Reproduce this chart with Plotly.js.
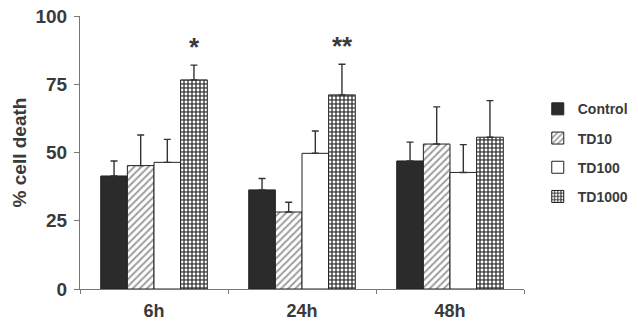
<!DOCTYPE html>
<html><head><meta charset="utf-8">
<script src="https://cdn.plot.ly/plotly-3.0.1.min.js"></script>
<style>html,body{margin:0;padding:0;background:#fff}#chart{width:638px;height:324px}</style>
</head><body><div id="chart"></div>
<script>
const categories = ['6h', '24h', '48h'];
const seriesNames = ['Control', 'TD10', 'TD100', 'TD1000'];
const controlVals = [41.4, 36.3, 46.9];
const td10Vals = [45.2, 28.2, 53.1];
const td100Vals = [46.4, 49.7, 42.7];
const td1000Vals = [76.6, 71.1, 55.6];
const controlErr = [5.5, 4.2, 6.9];
const td10Err = [11.2, 3.6, 13.6];
const td100Err = [8.4, 8.2, 10.2];
const td1000Err = [5.4, 11.2, 13.4];
const significance = ['*', '**', ''];
const yTicks = [0, 25, 50, 75, 100];

const txt = '#3a3a3a';
const fontFam = 'Liberation Sans, Arial, sans-serif';
const values = [controlVals, td10Vals, td100Vals, td1000Vals];
const errs = [controlErr, td10Err, td100Err, td1000Err];
const styles = [
  {color: '#2b2b2b', pattern: {shape: ''}},
  {color: '#ffffff', pattern: {shape: '/', fgcolor: '#3a3a3a', bgcolor: '#ffffff', size: 5, solidity: 0.4, fillmode: 'overlay'}},
  {color: '#ffffff', pattern: {shape: ''}},
  {color: '#ffffff', pattern: {shape: '.', fgcolor: '#ffffff', bgcolor: '#4a4a4a', size: 4, solidity: 0.4, fillmode: 'replace'}}
];

const traces = seriesNames.map((name, i) => ({
  type: 'bar', name: name, x: categories, y: values[i], legendgroup: 'g' + i,
  marker: Object.assign({line: {color: '#222', width: 1}}, styles[i]),
  error_y: {type: 'data', array: errs[i], symmetric: false, arrayminus: errs[i].map(() => 0),
            color: '#333', thickness: 1.4, width: 3.5}
}));

const annotations = categories.map((c, k) => significance[k] ? {
  x: c, y: td1000Vals[k] + td1000Err[k], xref: 'x', yref: 'y',
  text: '<b>' + significance[k] + '</b>', showarrow: false, yanchor: 'bottom', xshift: 40, yshift: 1,
  font: {family: fontFam, size: 26, color: txt}
} : null).filter(a => a);

const layout = {
  width: 638, height: 324,
  margin: {l: 80, r: 114, t: 16, b: 35, autoexpand: false},
  paper_bgcolor: '#fff', plot_bgcolor: '#fff',
  barmode: 'group', bargap: 0.28, bargroupgap: 0,
  font: {family: fontFam, color: txt},
  xaxis: {
    showline: true, linecolor: '#777', linewidth: 1,
    ticks: 'outside', tickson: 'boundaries', ticklen: 4, tickcolor: '#777',
    tickfont: {size: 18, color: txt, weight: 'bold'}, ticklabelstandoff: 5,
    showgrid: false, zeroline: false
  },
  yaxis: {
    range: [0, 100], tickvals: yTicks, ticktext: yTicks.map(String),
    showline: true, linecolor: '#777', linewidth: 1,
    ticks: 'outside', ticklen: 5, tickcolor: '#777',
    tickfont: {size: 19, color: txt, weight: 'bold'}, ticklabelstandoff: 3,
    showgrid: false, zeroline: false,
    title: {text: '% cell death', font: {size: 19, color: txt, weight: 'bold'}, standoff: 3}
  },
  legend: {
    x: 1.031, y: 0.717, xanchor: 'left', yanchor: 'top',
    font: {size: 14, color: txt, weight: 'bold'},
    traceorder: 'grouped', tracegroupgap: 8, itemwidth: 30
  },
  showlegend: true,
  annotations: annotations
};

Plotly.newPlot('chart', traces, layout, {displayModeBar: false, staticPlot: true});
</script></body></html>
